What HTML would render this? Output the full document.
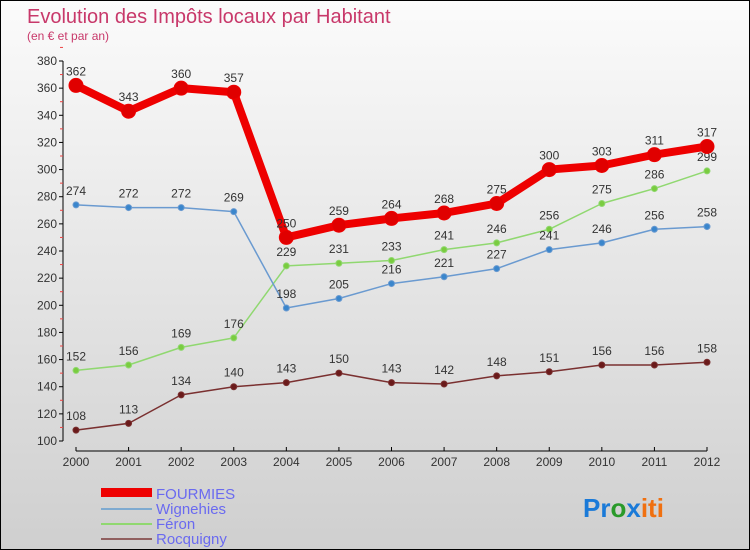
<!DOCTYPE html>
<html><head><meta charset="utf-8"><style>
body{margin:0}
#c{width:748px;height:548px;border:1px solid #000;background:linear-gradient(#fbfbfb,#cfcfcf);position:relative;font-family:"Liberation Sans",sans-serif;overflow:hidden}
</style></head><body>
<div id="c">
<svg id="s" width="748" height="548" style="position:absolute;left:0;top:0">
<text x="26" y="22" font-size="20" fill="#c8386a">Evolution des Impôts locaux par Habitant</text>
<text x="26" y="39" font-size="12" fill="#c8386a">(en € et par an)</text>
<g id="axes"></g><g id="series"></g>
<g>
<rect x="100" y="487" width="51" height="9" fill="#e00"/>
<text x="155" y="498" font-size="15" fill="#6a6af0">FOURMIES</text>
<rect x="100" y="507" width="51" height="2" fill="#7eaad0"/>
<text x="155" y="513" font-size="15" fill="#6a6af0">Wignehies</text>
<rect x="100" y="522" width="51" height="2" fill="#90d870"/>
<text x="155" y="528" font-size="15" fill="#6a6af0">Féron</text>
<rect x="100" y="537" width="51" height="2" fill="#906060"/>
<text x="155" y="543" font-size="15" fill="#6a6af0">Rocquigny</text>
</g>
<text x="582" y="516" font-size="26" font-weight="bold"><tspan fill="#1a7ad8">Pr</tspan><tspan fill="#2a9a2a">o</tspan><tspan fill="#1a7ad8">x</tspan><tspan fill="#f07010">iti</tspan></text>
</svg>
</div>
<script>
const years=[2000,2001,2002,2003,2004,2005,2006,2007,2008,2009,2010,2011,2012];
const fourmies=[362,343,360,357,250,259,264,268,275,300,303,311,317];
const wignehies=[274,272,272,269,198,205,216,221,227,241,246,256,258];
const feron=[152,156,169,176,229,231,233,241,246,256,275,286,299];
const rocquigny=[108,113,134,140,143,150,143,142,148,151,156,156,158];
const yTicks=[100,120,140,160,180,200,220,240,260,280,300,320,340,360,380];
const NS="http://www.w3.org/2000/svg";
const X=i=>75+i*(706-75)/(years.length-1);
const Y=v=>440-(v-100)*380/280;
function el(t,a,p){const e=document.createElementNS(NS,t);for(const k in a)e.setAttribute(k,a[k]);p.appendChild(e);return e;}
const ax=document.getElementById('axes');
let l=el('line',{x1:62,y1:60,x2:62,y2:440,stroke:'#000','stroke-width':1},ax);


l=el('line',{x1:75,y1:450,x2:706,y2:450,stroke:'#000','stroke-width':1},ax);


yTicks.forEach(v=>{
 el('line',{x1:58,y1:Y(v),x2:62,y2:Y(v),stroke:'#000'},ax);
 el('line',{x1:59,y1:Y(v+10),x2:62,y2:Y(v+10),stroke:'#e44'},ax);
 const t=el('text',{x:56,y:Y(v)+4,'font-size':12,fill:'#333','text-anchor':'end'},ax);t.textContent=v;
 
 
});
years.forEach((y,i)=>{
 el('line',{x1:X(i),y1:446,x2:X(i),y2:450,stroke:'#000'},ax);
 const t=el('text',{x:X(i),y:465,'font-size':12,fill:'#333','text-anchor':'middle'},ax);t.textContent=y;
 
 
});
const sg=document.getElementById('series');
function series(name,data,color,w,r,dot){
 const g=el('g',{},sg);
 
 
 const p=el('polyline',{points:data.map((v,i)=>X(i)+','+Y(v)).join(' '),fill:'none',stroke:color,'stroke-width':w,'stroke-linejoin':'round'},g);
 
 
 data.forEach((v,i)=>{
  const c=el('circle',{cx:X(i),cy:Y(v),r:r,fill:dot,stroke:color,'stroke-width':1},g);
  
  
  const t=el('text',{x:X(i),y:Y(v)-10,'font-size':12,fill:'#333','text-anchor':'middle'},g);t.textContent=v;
  
  
 });
}
series('rocquigny',rocquigny,'#7a3030',1.5,3,'#6a1a1a');
series('feron',feron,'#90d870',1.5,3,'#7acc40');
series('wignehies',wignehies,'#6a9ad0',1.5,3,'#3a86cc');
series('fourmies',fourmies,'#ee0000',8,7,'#e00000');
</script>
</body></html>
